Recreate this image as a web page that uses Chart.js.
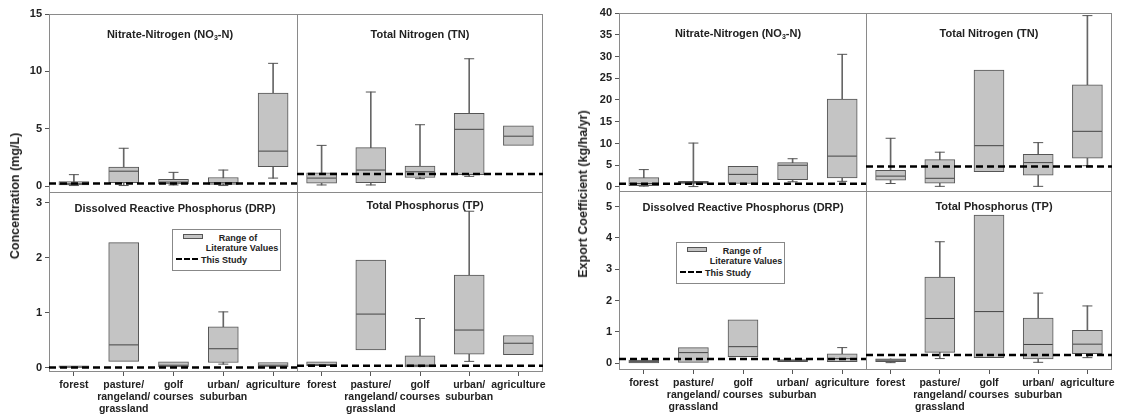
<!DOCTYPE html>
<html>
<head>
<meta charset="utf-8">
<script src="https://cdn.jsdelivr.net/npm/chart.js@4.4.0/dist/chart.umd.min.js"></script>
<style>
  body { margin: 0; background: #fff; width: 1125px; height: 415px; position: relative; overflow: hidden;
         font-family: "Liberation Sans", Arial, sans-serif; color: #222; }
  canvas { position: absolute; }
  .ttl { position: absolute; font-weight: bold; font-size: 11px; white-space: nowrap; transform: translate(-50%, -50%); }
  .ttl sub { font-size: 7px; vertical-align: -2px; }
  .ytitle { position: absolute; font-weight: bold; font-size: 12.5px; white-space: nowrap;
            transform: translate(-50%, -50%) rotate(-90deg); }
  .legend { position: absolute; width: 107px; height: 40px; border: 1px solid #888; background: #fff;
            font-weight: bold; font-size: 9px; }
  .legend div { position: absolute; white-space: nowrap; line-height: 10px; }
  .sw { left: 10px; top: 4px; width: 18px; height: 3px; background: #c4c4c4; border: 1px solid #555; }
  .dash { left: 3px; top: 28px; width: 22px; height: 0; border-top: 2.5px dashed #000; }
</style>
</head>
<body>
<script>
// land-use categories (x axis)
const landUses = ['forest', ['pasture/', 'rangeland/', 'grassland'], ['golf', 'courses'], ['urban/', 'suburban'], 'agriculture'];

// each row: [min, q1, median, q3, max] per land use
// concentration (mg/L)
const concNO3 = [[0.05, 0.1, 0.2, 0.4, 1.0], [0.05, 0.3, 1.3, 1.65, 3.3], [0.1, 0.2, 0.35, 0.6, 1.2], [0.05, 0.15, 0.3, 0.75, 1.4], [0.7, 1.7, 3.05, 8.1, 10.7]];
const concTN = [[0.1, 0.25, 0.7, 1.15, 3.55], [0.1, 0.3, 1.4, 3.35, 8.2], [0.65, 0.75, 1.25, 1.75, 5.35], [0.85, 1.0, 4.95, 6.35, 11.1], [3.55, 3.55, 4.35, 5.25, 5.25]];
const concDRP = [[0.01, 0.01, 0.02, 0.04, 0.04], [0.12, 0.12, 0.42, 2.28, 2.28], [0.02, 0.02, 0.05, 0.11, 0.11], [0.07, 0.1, 0.35, 0.75, 1.02], [0.02, 0.02, 0.05, 0.1, 0.1]];
const concTP = [[0.04, 0.04, 0.06, 0.11, 0.11], [0.33, 0.33, 0.98, 1.96, 1.96], [0.02, 0.02, 0.05, 0.22, 0.9], [0.12, 0.25, 0.69, 1.69, 2.85], [0.24, 0.24, 0.45, 0.59, 0.59]];
const concStudy = [0.23, 1.05, 0.01, 0.04]; // NO3, TN, DRP, TP

// export coefficient (kg/ha/yr)
const expNO3 = [[0.2, 0.3, 0.8, 2.15, 4.0], [0.1, 0.8, 1.0, 1.3, 10.1], [0.8, 0.8, 2.9, 4.75, 4.75], [1.2, 1.7, 5.0, 5.6, 6.5], [1.3, 2.1, 7.1, 20.2, 30.5]];
const expTN = [[0.8, 1.55, 2.5, 3.85, 11.2], [0.15, 0.9, 2.0, 6.3, 8.0], [3.5, 3.5, 9.5, 26.9, 26.9], [0.15, 2.7, 5.6, 7.5, 10.2], [4.9, 6.6, 12.8, 23.5, 39.4]];
const expDRP = [[0.01, 0.01, 0.05, 0.1, 0.1], [0.03, 0.03, 0.34, 0.5, 0.5], [0.21, 0.21, 0.53, 1.39, 1.39], [0.05, 0.05, 0.08, 0.12, 0.12], [0.05, 0.05, 0.15, 0.3, 0.5]];
const expTP = [[0.02, 0.05, 0.1, 0.14, 0.14], [0.15, 0.35, 1.43, 2.75, 3.88], [0.18, 0.18, 1.65, 4.73, 4.73], [0.03, 0.14, 0.6, 1.44, 2.24], [0.18, 0.31, 0.61, 1.05, 1.83]];
const expStudy = [0.77, 4.7, 0.14, 0.26];

// tick labels
const concTopTicks = [0, 5, 10, 15];
const concBotTicks = [0, 1, 2, 3];
const expTopTicks = [0, 5, 10, 15, 20, 25, 30, 35, 40];
const expBotTicks = [0, 1, 2, 3, 4, 5];

const yFont = { family: '"Liberation Sans", Arial, sans-serif', size: 11, weight: 'bold' };
const xFont = { family: '"Liberation Sans", Arial, sans-serif', size: 10.5, weight: 'bold', lineHeight: 1.15 };

// gray frame round each plot area
const framePlugin = {
    id: 'frame',
    beforeDatasetsDraw(chart) {
        const { ctx, chartArea: a } = chart;
        ctx.save();
        ctx.strokeStyle = '#8a8a8a';
        ctx.lineWidth = 1;
        ctx.strokeRect(Math.round(a.left) + 0.5, Math.round(a.top) + 0.5, Math.round(a.width) - 1, Math.round(a.height) - 1);
        ctx.restore();
    }
};

const makeSub = (cfg) => {
    const pad = 12;
    const yW = cfg.showY ? 40 : 0;
    const xH = cfg.showX ? 46 : 0;
    const canvas = document.createElement('canvas');
    canvas.width = cfg.w + yW + 2 * pad;
    canvas.height = cfg.h + xH + pad + (cfg.showX ? 0 : pad);
    canvas.style.left = (cfg.x - yW - pad) + 'px';
    canvas.style.top = (cfg.y - pad) + 'px';
    document.body.appendChild(canvas);

    const s = cfg.stats;
    const line = '#555';

    new Chart(canvas, {
        type: 'bar',
        data: {
            labels: landUses,
            datasets: [
                {   // whiskers
                    type: 'bar',
                    data: s.map(r => (r[4] > r[3] || r[0] < r[1]) ? [r[0], r[4]] : null),
                    barThickness: 1,
                    backgroundColor: '#666',
                    grouped: false,
                    order: 4
                },
                {   // boxes
                    type: 'bar',
                    data: s.map(r => [r[1], r[3]]),
                    barThickness: 30,
                    backgroundColor: '#c4c4c4',
                    borderColor: line,
                    borderWidth: 1,
                    borderSkipped: false,
                    grouped: false,
                    order: 3
                },
                {   // medians
                    type: 'line',
                    data: s.map(r => r[2]),
                    showLine: false,
                    pointStyle: 'line',
                    pointRadius: 14.5,
                    pointBorderColor: '#444',
                    pointBorderWidth: 1,
                    order: 2
                },
                {   // upper caps
                    type: 'line',
                    data: s.map(r => r[4] > r[3] ? r[4] : null),
                    showLine: false,
                    pointStyle: 'line',
                    pointRadius: 5,
                    pointBorderColor: line,
                    pointBorderWidth: 1,
                    order: 2
                },
                {   // lower caps
                    type: 'line',
                    data: s.map(r => r[0] < r[1] ? r[0] : null),
                    showLine: false,
                    pointStyle: 'line',
                    pointRadius: 5,
                    pointBorderColor: line,
                    pointBorderWidth: 1,
                    order: 2
                },
                {   // this study
                    type: 'line',
                    xAxisID: 'xl',
                    data: [{ x: 0, y: cfg.study }, { x: 1, y: cfg.study }],
                    borderColor: '#000',
                    borderWidth: 2.5,
                    borderDash: [7, 4],
                    pointRadius: 0,
                    order: 0
                }
            ]
        },
        options: {
            responsive: false,
            animation: false,
            layout: { autoPadding: false, padding: { left: pad, right: pad, top: pad, bottom: cfg.showX ? 0 : pad } },
            plugins: { legend: { display: false }, tooltip: { enabled: false } },
            scales: {
                x: {
                    type: 'category',
                    offset: true,
                    display: cfg.showX,
                    grid: { drawOnChartArea: false, drawTicks: true, tickLength: 4, color: line, offset: false },
                    border: { display: false },
                    ticks: { font: xFont, color: '#222', maxRotation: 0, autoSkip: false, padding: 3 },
                    afterFit: (sc) => { sc.height = xH; }
                },
                xl: { type: 'linear', min: 0, max: 1, offset: false, display: false },
                y: {
                    type: 'linear',
                    min: cfg.yMin,
                    max: cfg.yMax,
                    display: cfg.showY,
                    grid: { drawOnChartArea: false, drawTicks: true, tickLength: 4, color: line },
                    border: { display: false },
                    ticks: { font: yFont, color: '#222', padding: 3 },
                    afterBuildTicks: (sc) => { sc.ticks = cfg.ticks.map(v => ({ value: v })); },
                    afterFit: (sc) => { sc.width = yW; }
                }
            }
        },
        plugins: [framePlugin]
    });
};

// concentration panel
makeSub({ x: 49, y: 14, w: 249, h: 179, yMin: -0.6, yMax: 15, ticks: concTopTicks, stats: concNO3, study: concStudy[0], showY: true, showX: false });
makeSub({ x: 297, y: 14, w: 246, h: 179, yMin: -0.6, yMax: 15, ticks: concTopTicks, stats: concTN, study: concStudy[1], showY: false, showX: false });
makeSub({ x: 49, y: 192, w: 249, h: 180, yMin: -0.073, yMax: 3.2, ticks: concBotTicks, stats: concDRP, study: concStudy[2], showY: true, showX: true });
makeSub({ x: 297, y: 192, w: 246, h: 180, yMin: -0.073, yMax: 3.2, ticks: concBotTicks, stats: concTP, study: concStudy[3], showY: false, showX: true });

// export coefficient panel
makeSub({ x: 619, y: 13, w: 248, h: 179, yMin: -1.15, yMax: 40, ticks: expTopTicks, stats: expNO3, study: expStudy[0], showY: true, showX: false });
makeSub({ x: 866, y: 13, w: 246, h: 179, yMin: -1.15, yMax: 40, ticks: expTopTicks, stats: expTN, study: expStudy[1], showY: false, showX: false });
makeSub({ x: 619, y: 191, w: 248, h: 179, yMin: -0.215, yMax: 5.5, ticks: expBotTicks, stats: expDRP, study: expStudy[2], showY: true, showX: true });
makeSub({ x: 866, y: 191, w: 246, h: 179, yMin: -0.215, yMax: 5.5, ticks: expBotTicks, stats: expTP, study: expStudy[3], showY: false, showX: true });

// subplot titles and axis titles
const addText = (cls, html, x, y) => {
    const d = document.createElement('div');
    d.className = cls;
    d.innerHTML = html;
    d.style.left = x + 'px';
    d.style.top = y + 'px';
    document.body.appendChild(d);
};
addText('ttl', 'Nitrate-Nitrogen (NO<sub>3</sub>-N)', 170, 34);
addText('ttl', 'Total Nitrogen (TN)', 420, 34);
addText('ttl', 'Dissolved Reactive Phosphorus (DRP)', 175, 208);
addText('ttl', 'Total Phosphorus (TP)', 425, 205);
addText('ttl', 'Nitrate-Nitrogen (NO<sub>3</sub>-N)', 738, 33);
addText('ttl', 'Total Nitrogen (TN)', 989, 33);
addText('ttl', 'Dissolved Reactive Phosphorus (DRP)', 743, 207);
addText('ttl', 'Total Phosphorus (TP)', 994, 206);
addText('ytitle', 'Concentration (mg/L)', 15, 196);
addText('ytitle', 'Export Coefficient (kg/ha/yr)', 583, 194);

// legends
const addLegend = (x, y) => {
    const lg = document.createElement('div');
    lg.className = 'legend';
    lg.style.left = x + 'px';
    lg.style.top = y + 'px';
    lg.innerHTML =
        '<div class="sw"></div>' +
        '<div style="left:65px;top:3px;transform:translateX(-50%)">Range of</div>' +
        '<div style="left:69px;top:13px;transform:translateX(-50%)">Literature Values</div>' +
        '<div class="dash"></div>' +
        '<div style="left:28px;top:25px">This Study</div>';
    document.body.appendChild(lg);
};
addLegend(172, 229);
addLegend(676, 242);
</script>
</body>
</html>
